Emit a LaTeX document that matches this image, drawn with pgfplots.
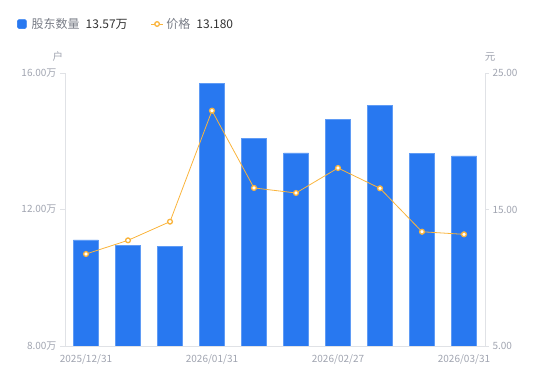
\documentclass[border=0pt]{standalone}
\usepackage{pgfplots}
\pgfplotsset{compat=1.18}
\usepackage{fontspec}
\setmainfont{Noto Sans CJK SC}
\definecolor{barblue}{RGB}{40,120,240}
\definecolor{baredge}{RGB}{95,155,245}
\definecolor{lineorange}{RGB}{250,180,60}
\definecolor{ticktext}{RGB}{160,164,176}
\definecolor{axisgray}{RGB}{224,226,230}
\definecolor{legname}{RGB}{120,124,134}
\definecolor{legval}{RGB}{50,50,50}
\begin{document}
\begin{tikzpicture}
\path[use as bounding box] (0,0) rectangle (550pt,381pt);
\begin{axis}[
  at={(65pt,35pt)}, anchor=south west, scale only axis,
  width=420pt, height=273pt,
  xmin=0.5, xmax=10.5, ymin=8, ymax=16,
  clip mode=individual,
  ybar, bar width=25pt,
  axis x line*=bottom, axis y line*=left,
  axis line style={axisgray, line width=0.6pt},
  xtick={1,4,7,10},
  xticklabels={2025/12/31,2026/01/31,2026/02/27,2026/03/31},
  ytick={8,12,16},
  yticklabels={8.00万,12.00万,16.00万},
  tick label style={font=\fontsize{10}{12}\selectfont, text=ticktext},
  x tick style={draw=none},
  y tick style={axisgray, line width=0.6pt},
  tick align=outside, major tick length=5pt,
  legend style={at={(0,1)}, anchor=west, xshift=-51pt, yshift=49pt,
    draw=none, fill=none, legend columns=2,
    font=\fontsize{12}{14}\selectfont,
    /tikz/every even column/.append style={column sep=21pt}},
  legend cell align=left,
]
\addplot[fill=barblue, draw=baredge, line width=0.5pt,
  legend image code/.code={\fill[barblue, rounded corners=1.5pt] (0pt,-4.5pt) rectangle (9pt,4.5pt);}]
  coordinates {(1,11.11) (2,10.95) (3,10.93) (4,15.70) (5,14.09) (6,13.66) (7,14.64) (8,15.06) (9,13.64) (10,13.57)};
\addlegendentry{\hspace{3pt}{\color{legname}股东数量}\hspace{6pt}{\color{legval}13.57万}}
\addlegendimage{legend image code/.code={\draw[lineorange, line width=0.8pt] (0pt,0pt) -- (12pt,0pt); \draw[lineorange, line width=1.3pt, fill=white] (6pt,0pt) circle (2.3pt);}}
\addlegendentry{\hspace{1pt}{\color{legname}价格}\hspace{6pt}{\color{legval}13.180}}
\node[text=ticktext, font=\fontsize{10.5}{12}\selectfont] at (rel axis cs:0,1) [xshift=-7pt, yshift=16pt] {户};
\end{axis}
\begin{axis}[
  at={(65pt,35pt)}, anchor=south west, scale only axis,
  width=420pt, height=273pt,
  xmin=0.5, xmax=10.5, ymin=5, ymax=25,
  hide x axis, axis y line*=right,
  axis line style={axisgray, line width=0.6pt},
  ytick={5,15,25},
  yticklabels={5.00,15.00,25.00},
  tick label style={font=\fontsize{10}{12}\selectfont, text=ticktext},
  y tick style={axisgray, line width=0.6pt},
  tick align=outside, major tick length=4pt,
  clip=false,
]
\addplot[lineorange, line width=0.8pt, mark=*, mark size=2.4pt,
  mark options={fill=white, draw=lineorange, line width=1.3pt}]
  coordinates {(1,11.74) (2,12.74) (3,14.11) (4,22.24) (5,16.58) (6,16.21) (7,18.04) (8,16.55) (9,13.37) (10,13.18)};
\node[text=ticktext, font=\fontsize{10.5}{12}\selectfont] at (rel axis cs:1,1) [xshift=5pt, yshift=16pt] {元};
\end{axis}
\end{tikzpicture}
\end{document}
